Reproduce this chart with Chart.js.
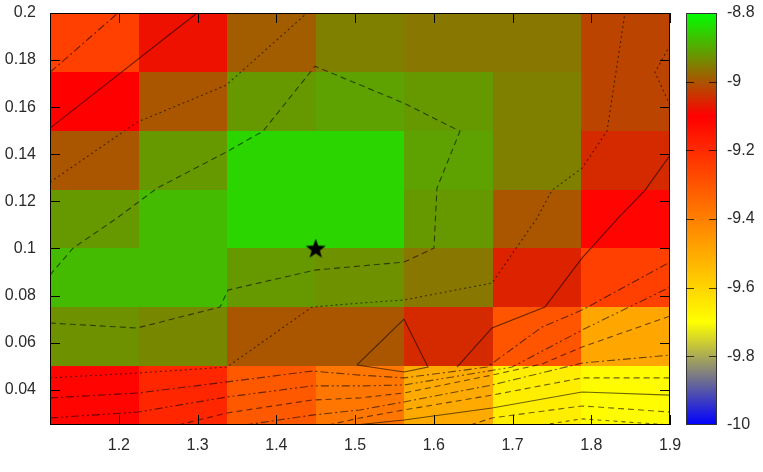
<!DOCTYPE html>
<html><head><meta charset="utf-8">
<script src="https://cdn.jsdelivr.net/npm/chart.js@4.4.0/dist/chart.umd.min.js"></script>
<style>html,body{margin:0;padding:0;background:#fff;overflow:hidden}#wrap{position:relative;width:763px;height:472px}</style>
</head><body><div id="wrap"><canvas id="c"></canvas></div>
<script>
// ---- grid (cell edges) ----
const xEdges = [1.1125, 1.225, 1.3375, 1.45, 1.5625, 1.675, 1.7875, 1.9];
const yEdges = [0.025, 0.05, 0.075, 0.1, 0.125, 0.15, 0.175, 0.2];
// ---- cell values, one array per row (bottom to top) ----
const zRow0 = [-9.11, -9.19, -9.31, -9.38, -9.50, -9.66, -9.69];
const zRow1 = [-8.93, -8.94, -9.00, -9.00, -9.05, -9.30, -9.49];
const zRow2 = [-8.88, -8.88, -8.92, -8.93, -8.96, -9.06, -9.25];
const zRow3 = [-8.92, -8.88, -8.85, -8.85, -8.92, -9.00, -9.11];
const zRow4 = [-9.00, -8.92, -8.85, -8.85, -8.91, -8.95, -9.05];
const zRow5 = [-9.10, -9.00, -8.92, -8.91, -8.92, -8.95, -9.02];
const zRow6 = [-9.25, -9.08, -8.99, -8.95, -8.96, -8.96, -9.02];
const zRows = [zRow0, zRow1, zRow2, zRow3, zRow4, zRow5, zRow6];
// ---- best point (star) ----
const bestPoint = [[1.45, 0.1]];
// ---- contour lines (x, y) ----
const contourA = [[1.1125,0.1748],[1.1989,0.2]];
const contourB = [[1.1125,0.1511],[1.2992,0.2]];
const contourC = [[1.1125,0.1281],[1.2230,0.1536],[1.3361,0.1693],[1.4389,0.2]];
const contourD = [[1.1125,0.0887],[1.1417,0.1001],[1.1976,0.1129],[1.2484,0.1256],[1.3361,0.1409],[1.3831,0.1498],[1.4491,0.1774],[1.5621,0.1617],[1.6332,0.1498],[1.6040,0.1256],[1.6002,0.1001],[1.5621,0.0942],[1.4491,0.0908],[1.3386,0.0823],[1.3284,0.0751],[1.2230,0.0662],[1.1125,0.0683]];
const contourE = [[1.1125,0.0450],[1.2243,0.0471],[1.3373,0.0496],[1.4453,0.0751],[1.5062,0.0768],[1.5621,0.0781],[1.6739,0.0853],[1.7311,0.1129],[1.7501,0.1247],[1.7882,0.1341],[1.8200,0.1498],[1.8428,0.2]];
const contourF = [[1.9,0.1863],[1.8809,0.1748],[1.9,0.1608]];
const contourG = [[1.5024,0.0505],[1.5621,0.0700],[1.5926,0.0496],[1.5621,0.0475],[1.5024,0.0505]];
const contourH = [[1.6294,0.0496],[1.6739,0.0662],[1.7412,0.0751],[1.7882,0.0959],[1.8340,0.1129],[1.8682,0.1247],[1.9,0.1396]];
const contourI = [[1.1125,0.0365],[1.2243,0.0386],[1.3373,0.0433],[1.4453,0.0479],[1.5062,0.0462],[1.5621,0.0450],[1.6676,0.0496],[1.7374,0.0666],[1.7882,0.0738],[1.9,0.0942]];
const contourJ = [[1.1125,0.0280],[1.2243,0.0305],[1.3373,0.0369],[1.4453,0.0416],[1.5062,0.0416],[1.5621,0.0420],[1.6993,0.0496],[1.7882,0.0653],[1.9,0.0836]];
const contourK = [[1.2751,0.025],[1.3373,0.0301],[1.4453,0.0356],[1.5062,0.0365],[1.5621,0.0386],[1.6739,0.0462],[1.7374,0.0509],[1.7882,0.0581],[1.9,0.0713]];
const contourL = [[1.3602,0.025],[1.4453,0.0292],[1.5062,0.0314],[1.5621,0.0348],[1.6739,0.0420],[1.7882,0.0513],[1.9,0.0547]];
const contourM = [[1.4656,0.025],[1.5062,0.0280],[1.5621,0.0314],[1.6739,0.0377],[1.7882,0.0450],[1.9,0.0450]];
const contourN = [[1.5,0.025],[1.5621,0.0271],[1.6739,0.0322],[1.7882,0.0390],[1.9,0.0377]];
const contourO = [[1.6460,0.025],[1.6739,0.0280],[1.7882,0.0331],[1.9,0.0305]];
const contourP = [[1.7374,0.025],[1.7882,0.0276],[1.9,0.025]];
// ---- ticks ----
const xTicks = [1.2, 1.3, 1.4, 1.5, 1.6, 1.7, 1.8, 1.9];
const xTickLabels = ['1.2','1.3','1.4','1.5','1.6','1.7','1.8','1.9'];
const yTicks = [0.04, 0.06, 0.08, 0.1, 0.12, 0.14, 0.16, 0.18, 0.2];
const yTickLabels = ['0.04','0.06','0.08','0.1','0.12','0.14','0.16','0.18','0.2'];
const cbTicks = [-10, -9.8, -9.6, -9.4, -9.2, -9, -8.8];
const cbTickLabels = ['-10','-9.8','-9.6','-9.4','-9.2','-9','-8.8'];

// ---- palette ----
const palStops = [[-10,[0,0,255]],[-9.7,[255,255,0]],[-9.1,[255,0,0]],[-8.8,[0,255,0]]];
function palette(v){
  if (v <= palStops[0][0]) return palStops[0][1];
  for (let i=1;i<palStops.length;i++){
    if (v <= palStops[i][0]){
      const a=palStops[i-1], b=palStops[i];
      const t=(v-a[0])/(b[0]-a[0]);
      return a[1].map((c,k)=>Math.round(c+(b[1][k]-c)*t));
    }
  }
  return palStops[palStops.length-1][1];
}
const rgb = c => `rgb(${c[0]},${c[1]},${c[2]})`;

const FONT = {family:'"Liberation Sans", Arial, sans-serif', size:16};
const TXT = '#2a2a2a';
const LINE = 'rgba(0,0,0,0.58)';
const styles = {
  solid: [], dashed: [6,4], dotted: [2,3], dashdot: [8,3,2,3], dashdotdot: [8,3,2,3,2,3], short: [4,4]
};
function cline(pts, dash){
  return {type:'scatter', data: pts.map(p=>({x:p[0], y:p[1]})), showLine:true, pointRadius:0,
    borderColor: LINE, borderWidth:1.1, borderDash: dash, fill:false, tension:0};
}

// star image as point style
const star = document.createElement('canvas');
star.width = 22; star.height = 22;
(function(){
  const g = star.getContext('2d');
  g.beginPath();
  for (let i=0;i<10;i++){
    const r = i%2===0 ? 10.5 : 4.3;
    const a = -Math.PI/2 + i*Math.PI/5;
    const px = 11 + r*Math.cos(a), py = 11.8 + r*Math.sin(a);
    if (i===0) g.moveTo(px,py); else g.lineTo(px,py);
  }
  g.closePath(); g.fillStyle = '#000'; g.fill();
})();

const heatmap = {
  id:'heatmap',
  beforeDatasetsDraw(chart){
    const {ctx, scales:{x,y}} = chart;
    ctx.save();
    for (let r=0;r<zRows.length;r++){
      for (let c=0;c<zRows[r].length;c++){
        const x0 = Math.round(x.getPixelForValue(xEdges[c])), x1 = Math.round(x.getPixelForValue(xEdges[c+1]));
        const y0 = Math.round(y.getPixelForValue(yEdges[r+1])), y1 = Math.round(y.getPixelForValue(yEdges[r]));
        ctx.fillStyle = rgb(palette(zRows[r][c]));
        ctx.fillRect(x0, y0, x1-x0, y1-y0);
      }
    }
    ctx.restore();
  }
};

const frame = {
  id:'frame',
  afterDatasetsDraw(chart){
    const {ctx, chartArea:a, scales:{x,y,cb}} = chart;
    ctx.save();
    ctx.strokeStyle = '#000'; ctx.lineWidth = 1;
    ctx.strokeRect(a.left+0.5, a.top+0.5, a.right-a.left-1, a.bottom-a.top-1);
    ctx.beginPath();
    xTicks.forEach(v=>{
      const px = Math.round(x.getPixelForValue(v))+0.5;
      ctx.moveTo(px, a.bottom); ctx.lineTo(px, a.bottom-10);
      ctx.moveTo(px, a.top); ctx.lineTo(px, a.top+10);
    });
    yTicks.forEach(v=>{
      const py = Math.round(y.getPixelForValue(v))+0.5;
      ctx.moveTo(a.left, py); ctx.lineTo(a.left+10, py);
      ctx.moveTo(a.right, py); ctx.lineTo(a.right-10, py);
    });
    ctx.stroke();
    // colorbar
    const cx0 = a.right + 16, cw = 31;
    const yb = cb.getPixelForValue(-10), yt = cb.getPixelForValue(-8.8);
    const grad = ctx.createLinearGradient(0, yb, 0, yt);
    palStops.forEach(s=>grad.addColorStop((s[0]+10)/1.2, rgb(s[1])));
    ctx.fillStyle = grad;
    ctx.fillRect(cx0, yt, cw, yb-yt);
    ctx.strokeStyle = '#333';
    ctx.strokeRect(cx0+0.5, yt+0.5, cw-1, yb-yt-1);
    ctx.beginPath();
    cbTicks.slice(1,-1).forEach(v=>{
      const py = Math.round(cb.getPixelForValue(v))+0.5;
      ctx.moveTo(cx0, py); ctx.lineTo(cx0+8, py);
      ctx.moveTo(cx0+cw, py); ctx.lineTo(cx0+cw-8, py);
    });
    ctx.strokeStyle = 'rgba(0,0,0,0.7)';
    ctx.stroke();
    ctx.restore();
  }
};

function vFit(w){ return s => { s.width = w; s.paddingTop = 0; s.paddingBottom = 0; }; }

new Chart(document.getElementById('c'), {
  type:'scatter',
  data:{datasets:[
    cline(contourA, styles.dashdot),
    cline(contourB, styles.solid),
    cline(contourC, styles.dotted),
    cline(contourD, styles.dashed),
    cline(contourE, styles.dotted),
    cline(contourF, styles.dotted),
    cline(contourG, styles.solid),
    cline(contourH, styles.solid),
    cline(contourI, styles.dashdot),
    cline(contourJ, styles.dashdotdot),
    cline(contourK, styles.dashed),
    cline(contourL, styles.dashdot),
    cline(contourM, styles.dashed),
    cline(contourN, styles.solid),
    cline(contourO, styles.dashed),
    cline(contourP, styles.short),
    {type:'scatter', data: bestPoint.map(p=>({x:p[0], y:p[1]})), pointStyle: star, pointRadius: 11, showLine:false}
  ]},
  options:{
    responsive:true, maintainAspectRatio:false, animation:false, devicePixelRatio:1,
    layout:{padding:{top:13, left:0, right:0, bottom:0}},
    plugins:{legend:{display:false}, tooltip:{enabled:false}},
    scales:{
      x:{type:'linear', position:'bottom', min:1.1125, max:1.9,
        grid:{display:false, drawTicks:false}, border:{display:false},
        afterBuildTicks: s => { s.ticks = xTicks.map(v=>({value:v})); },
        afterFit: s => { s.height = 47; s.paddingLeft = 0; s.paddingRight = 0; },
        ticks:{font:FONT, color:TXT, padding:11, maxRotation:0, autoSkip:false,
          callback: v => xTickLabels[xTicks.indexOf(v)] }},
      y:{type:'linear', position:'left', min:0.025, max:0.2,
        grid:{display:false, drawTicks:false}, border:{display:false},
        afterBuildTicks: s => { s.ticks = yTicks.map(v=>({value:v})); },
        afterFit: vFit(50),
        ticks:{font:FONT, color:TXT, padding:14, autoSkip:false,
          callback: v => yTickLabels[yTicks.indexOf(v)] }},
      cb:{type:'linear', position:'right', min:-10, max:-8.8,
        grid:{display:false, drawTicks:false}, border:{display:false},
        afterBuildTicks: s => { s.ticks = cbTicks.map(v=>({value:v})); },
        afterFit: vFit(93),
        ticks:{font:FONT, color:TXT, padding:57, autoSkip:false,
          callback: v => cbTickLabels[cbTicks.indexOf(v)] }}
    }
  },
  plugins:[heatmap, frame]
});
</script></body></html>
